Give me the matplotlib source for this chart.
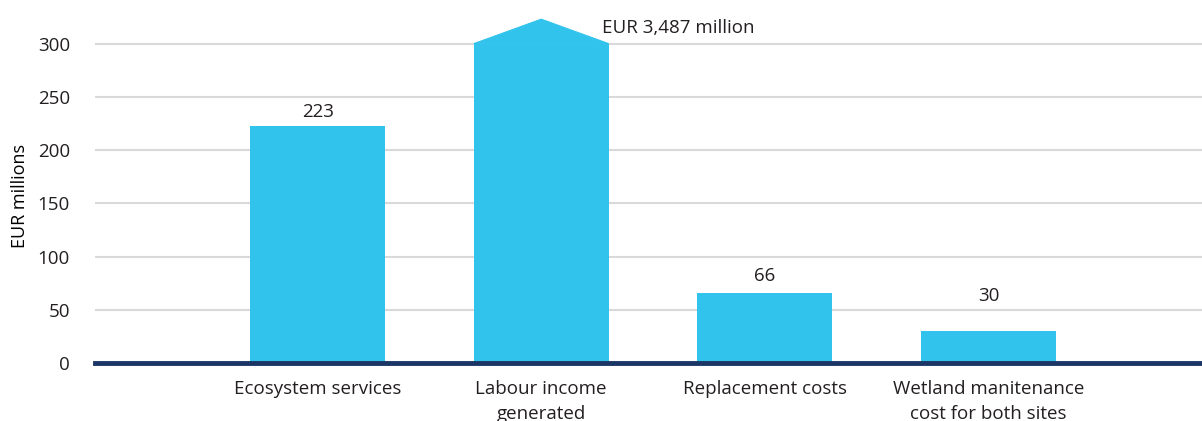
import numpy as np
import matplotlib.pyplot as plt
from matplotlib.patches import Polygon

categories = ["Ecosystem services", "Labour income\ngenerated", "Replacement costs",
              "Wetland manitenance\ncost for both sites"]
values = [223, 3487, 66, 30]
value_labels = ["223", "EUR 3,487 million", "66", "30"]
axis_cap = 300      # bars above this are cut and drawn with an arrow head
arrow_peak = 323

bar_color = "#32c3ed"
axis_color = "#1b3564"
grid_color = "#d9d9d9"
text_color = "#231f20"

plt.rcParams['font.family'] = ['Open Sans', 'DejaVu Sans']
plt.rcParams['font.size'] = 13.5
plt.rcParams['text.color'] = text_color

fig = plt.figure(figsize=(12.02, 4.21), dpi=100)
ax = fig.add_axes([95 / 1202, 58 / 421, 1107 / 1202, 363 / 421])

x = np.arange(len(categories))
width = 0.603
shown = [min(v, axis_cap) for v in values]
bars = ax.bar(x, shown, width=width, color=bar_color, zorder=3)

# label offsets in points (the small bar label sits above the 50 gridline)
label_offsets = [6.5, None, 8.5, 21.5]
for i, (b, v) in enumerate(zip(bars, values)):
    left = b.get_x()
    right = left + b.get_width()
    if v > axis_cap:
        tri = Polygon([[left, axis_cap], [(left + right) / 2, arrow_peak], [right, axis_cap]],
                      closed=True, facecolor=bar_color, edgecolor=bar_color,
                      linewidth=0.8, zorder=3)
        ax.add_patch(tri)
        ax.annotate(value_labels[i], xy=(right, axis_cap), xytext=(-4.5, 7.5),
                    textcoords='offset points', ha='left', va='baseline')
    else:
        ax.annotate(value_labels[i], xy=(b.get_x() + b.get_width() / 2, v),
                    xytext=(0, label_offsets[i]), textcoords='offset points',
                    ha='center', va='baseline')

ax.set_xlim(-0.995, 3.954)
ax.set_ylim(0, 341)
ax.set_yticks([0, 50, 100, 150, 200, 250, 300])
ax.set_xticks(x)
ax.set_xticklabels(categories, linespacing=1.5)
ax.tick_params(axis='both', length=0, colors=text_color)
ax.tick_params(axis='y', pad=18)
ax.tick_params(axis='x', pad=12)

ax.grid(axis='y', color=grid_color, linewidth=1.5, zorder=0)
for s in ['top', 'right', 'left']:
    ax.spines[s].set_visible(False)
ax.spines['bottom'].set_color(axis_color)
ax.spines['bottom'].set_linewidth(3.5)
ax.spines['bottom'].set_zorder(4)

ax.set_ylabel("EUR millions", fontsize=13)
ax.yaxis.set_label_coords(-0.06, 0.46)

fig.savefig("out.png", dpi=100)
